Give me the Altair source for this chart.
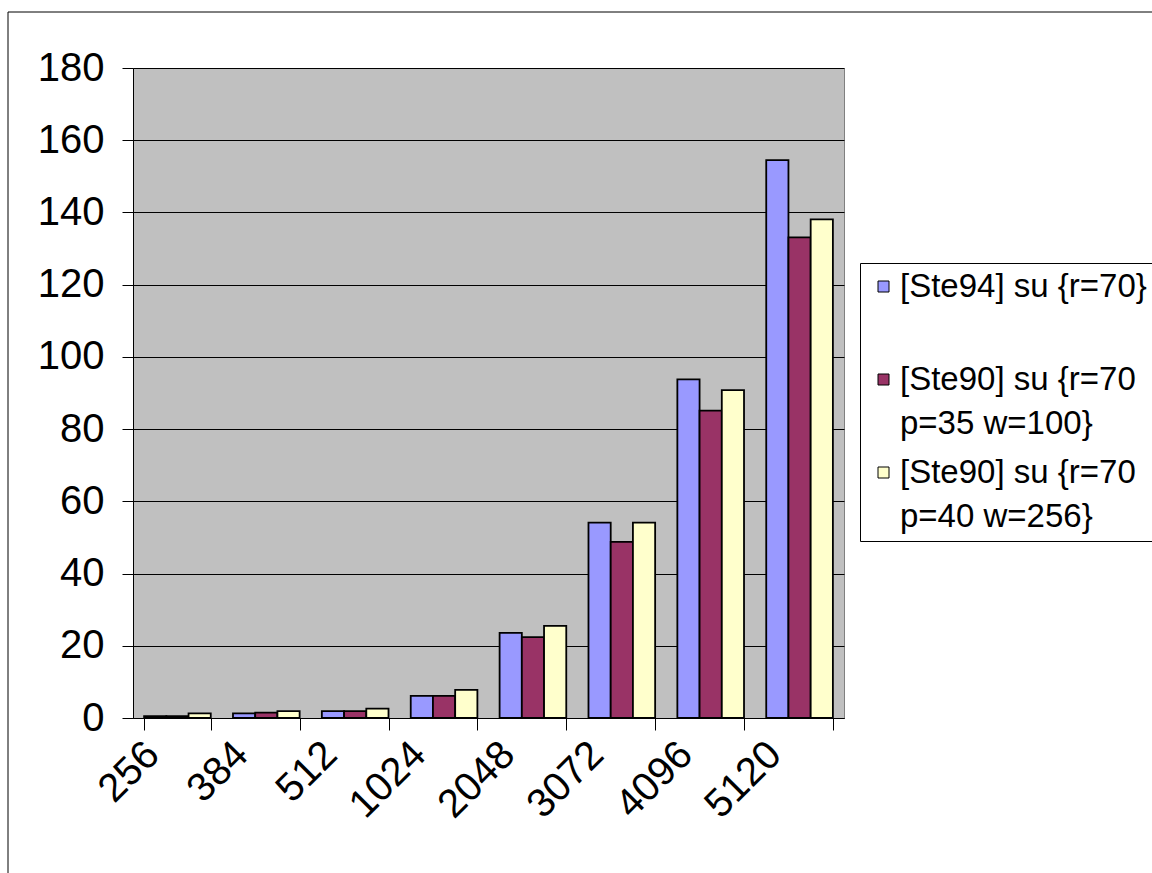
import json

import altair as alt
import pandas as pd

# Problem sizes on the category axis
sizes = ["256", "384", "512", "1024", "2048", "3072", "4096", "5120"]

# Series names and their measured values
series = [
    "[Ste94] su {r=70}",
    "[Ste90] su {r=70 p=35 w=100}",
    "[Ste90] su {r=70 p=40 w=256}",
]
ste94_r70 = [0.5, 1.3, 1.9, 6.1, 23.6, 54.1, 93.8, 154.5]
ste90_p35_w100 = [0.5, 1.5, 1.9, 6.1, 22.4, 48.8, 85.1, 133.1]
ste90_p40_w256 = [1.3, 1.9, 2.6, 7.8, 25.5, 54.1, 90.8, 138.1]

colors = ["#9999FF", "#993366", "#FFFFCC"]

# Legend labels broken over two lines each
legend_lines = [
    ["[Ste94] su {r=70}", ""],
    ["[Ste90] su {r=70", "p=35 w=100}"],
    ["[Ste90] su {r=70", "p=40 w=256}"],
]

y_ticks = list(range(0, 181, 20))

rows = []
for name, vals in zip(series, [ste94_r70, ste90_p35_w100, ste90_p40_w256]):
    for s, v in zip(sizes, vals):
        rows.append({"size": s, "series": name, "value": v})
df = pd.DataFrame(rows)

label_expr = "datum.label"
for name, lines in reversed(list(zip(series, legend_lines))):
    label_expr = f"datum.label === {json.dumps(name)} ? {json.dumps(lines)} : ({label_expr})"

FONT = "Liberation Sans"

bars = alt.Chart(df).mark_bar(stroke="black", strokeWidth=1.8).encode(
    x=alt.X(
        "size:N",
        sort=sizes,
        scale=alt.Scale(paddingInner=0.25, paddingOuter=0.125),
        axis=alt.Axis(
            title=None,
            tickBand="extent",
            labelAngle=-45,
            labelAlign="right",
            labelBaseline="middle",
            labelFontSize=40,
            labelFont=FONT,
            labelColor="black",
            labelOffset=-25,
            labelPadding=18,
            tickSize=12,
            tickColor="black",
            domainColor="black",
            grid=False,
        ),
    ),
    xOffset=alt.XOffset(
        "series:N", sort=series, scale=alt.Scale(paddingInner=0, paddingOuter=0)
    ),
    y=alt.Y(
        "value:Q",
        scale=alt.Scale(domain=[0, 180], nice=False),
        axis=alt.Axis(
            title=None,
            values=y_ticks,
            labelFontSize=40,
            labelFont=FONT,
            labelColor="black",
            labelPadding=18,
            tickSize=11,
            tickColor="black",
            domainColor="black",
            grid=True,
            gridColor="black",
            gridWidth=1,
        ),
    ),
    color=alt.Color(
        "series:N",
        sort=series,
        scale=alt.Scale(domain=series, range=colors),
        legend=alt.Legend(
            title=None,
            orient="none",
            legendX=727,
            legendY=195,
            fillColor="white",
            strokeColor="black",
            padding=7,
            rowPadding=15,
            symbolType="square",
            symbolSize=121,
            symbolStrokeColor="black",
            symbolStrokeWidth=1,
            symbolOffset=0,
            labelOffset=0,
            labelFontSize=33,
            labelFont=FONT,
            labelColor="black",
            labelLimit=800,
            labelExpr=label_expr,
        ),
    ),
)

# outer chart-area frame
frame = alt.Chart(pd.DataFrame({"k": [0]})).mark_rect(
    filled=False, stroke="black", strokeWidth=1
).encode(
    x=alt.value(-125), y=alt.value(-56), x2=alt.value(1040), y2=alt.value(830)
)

chart = (
    alt.layer(frame, bars)
    .properties(
        width=711,
        height=650,
        padding={"left": 133, "top": 68, "right": 308, "bottom": 155},
        autosize=alt.AutoSizeParams(type="none"),
        background="white",
    )
    .configure(
        font=FONT,
        style={"guide-label": {"lineHeight": 44}},
        view=alt.ViewConfig(fill="#C0C0C0", stroke="#808080", strokeWidth=1),
    )
)

chart.save("out.html", embed_options={"renderer": "svg", "actions": False})
